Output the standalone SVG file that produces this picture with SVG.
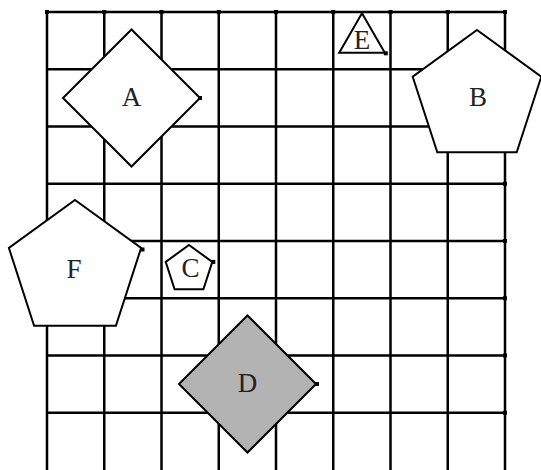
<svg xmlns="http://www.w3.org/2000/svg" width="541" height="470" viewBox="0 0 541 470">
<style>
.g{stroke:#000;stroke-width:2.5;fill:none}
.s{stroke:#000;stroke-width:2;fill:#fff;stroke-linejoin:miter}
.t{font-family:"Liberation Serif",serif;font-size:27px;fill:#222;text-anchor:middle;dominant-baseline:central}
.d{fill:#000}
</style>
<rect width="541" height="470" fill="#fff"/>
<g id="grid">
<path class="g" d="M47,470V12M104.25,470V12M161.5,470V12M218.75,470V12M276,470V12M333.25,470V12M390.5,470V12M447.75,470V12M505,470V12"/>
<path class="g" d="M47,12H505M47,69.25H505M47,126.5H505M47,183.75H505M47,241H505M47,298.25H505M47,355.5H505M47,412.75H505"/>
<g class="d">
<rect x="45" y="10" width="4" height="4"/><rect x="102.25" y="10" width="4" height="4"/><rect x="159.5" y="10" width="4" height="4"/><rect x="216.75" y="10" width="4" height="4"/><rect x="274" y="10" width="4" height="4"/><rect x="331.25" y="10" width="4" height="4"/><rect x="388.5" y="10" width="4" height="4"/><rect x="445.75" y="10" width="4" height="4"/><rect x="503" y="10" width="4" height="4"/>
<rect x="503" y="67.25" width="4" height="4"/><rect x="503" y="124.5" width="4" height="4"/><rect x="503" y="181.75" width="4" height="4"/><rect x="503" y="239" width="4" height="4"/><rect x="503" y="296.25" width="4" height="4"/><rect x="503" y="353.5" width="4" height="4"/><rect x="503" y="410.75" width="4" height="4"/>
</g>
</g>
<g id="A">
<polygon class="s" points="131.5,29.5 200,98 131.5,166.5 63,98"/>
<rect class="d" x="198" y="96" width="4" height="4"/>
<text class="t" x="131.5" y="97">A</text>
</g>
<g id="B">
<polygon class="s" points="477,30 541.3,76.7 516.7,152.3 437.3,152.3 412.7,76.7"/>
<text class="t" x="478" y="97">B</text>
</g>
<g id="C">
<polygon class="s" points="189,245 212.3,261.9 203.4,289.3 174.6,289.3 165.7,261.9"/>
<rect class="d" x="211.3" y="259.9" width="4" height="4"/>
<text class="t" x="190.5" y="268">C</text>
</g>
<g id="D">
<polygon points="247.5,315.5 316,384 247.5,452.5 179,384" fill="#b3b3b3" stroke="#000" stroke-width="2"/>
<rect class="d" x="315" y="382" width="4" height="4"/>
<text class="t" x="247.5" y="383">D</text>
</g>
<g id="E">
<polygon class="s" points="362,13.3 384.8,52.8 339.2,52.8"/>
<rect class="d" x="383.8" y="51.3" width="4" height="4"/>
<text class="t" x="362" y="40">E</text>
</g>
<g id="F">
<polygon class="s" points="75,200 141.1,248 115.9,325.7 34.1,325.7 8.9,248"/>
<rect class="d" x="140.5" y="247.5" width="4" height="4"/>
<text class="t" x="74" y="269">F</text>
</g>
</svg>
